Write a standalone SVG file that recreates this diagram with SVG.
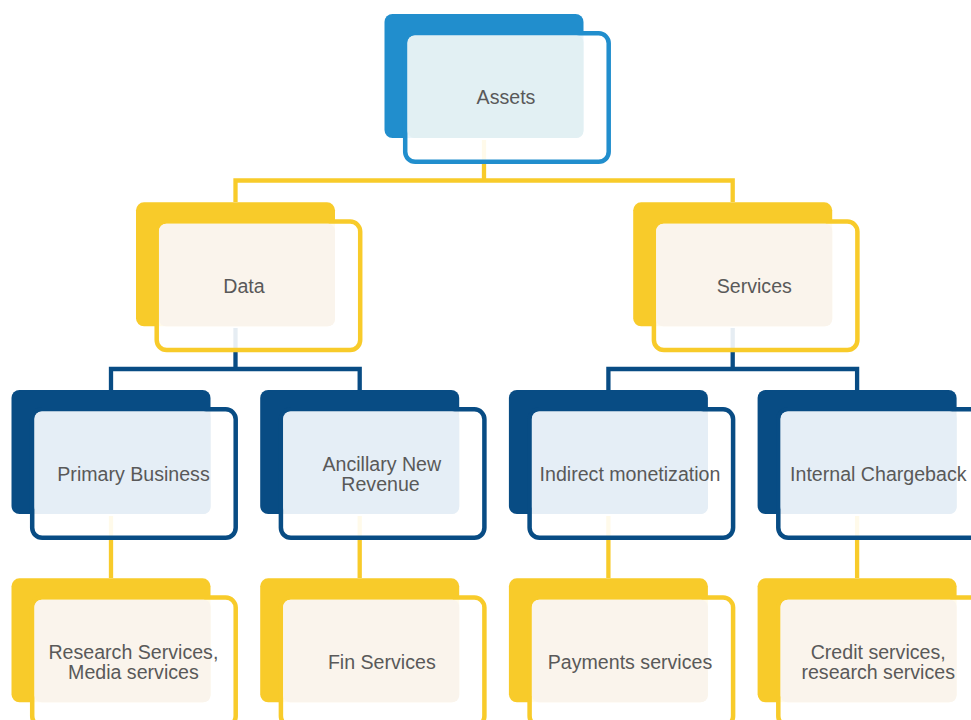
<svg xmlns="http://www.w3.org/2000/svg" width="971" height="720" viewBox="0 0 971 720">
<style>
  .o { fill: #ffffff; fill-opacity: 0.9; stroke-width: 4.5; }
  .t { font-family: "Liberation Sans", Arial, sans-serif; font-size: 19.6px; fill: #595959; text-anchor: middle; }
  .c { fill: none; stroke-width: 4.3; stroke-linejoin: miter; stroke-linecap: butt; }
  .bl1 { fill: #218ecd; } .bl1o { stroke: #218ecd; } .bl1l { fill: #e2f0f3; }
  .ye { fill: #f8cb2a; } .yeo { stroke: #f8cb2a; } .yel { fill: #faf4ec; }
  .db { fill: #084c84; } .dbo { stroke: #084c84; } .dbl { fill: #e5eef6; }
</style>
<rect width="971" height="720" fill="#ffffff"/>
<g id="connectors">
  <path class="c" stroke="#f8cb2a" d="M484,140 V180.5 M235.5,202 V180.5 H732.7 V202"/>
  <path class="c" stroke="#084c84" d="M235.5,328 V369 M111,390 V369 H359.7 V390"/>
  <path class="c" stroke="#084c84" d="M732.7,328 V369 M608.4,390 V369 H857.1 V390"/>
  <path class="c" stroke="#f8cb2a" d="M111,516 V578 M359.7,516 V578 M608.4,516 V578 M857.1,516 V578"/>
</g>
<g id="assets">
  <rect class="bl1" x="384.5" y="14" width="199" height="124" rx="8"/>
  <rect class="o bl1o" x="405.2" y="33.3" width="203.5" height="128.5" rx="10"/>
  <rect class="bl1l" x="407.5" y="35.5" width="176" height="102.5" rx="7"/>
  <text class="t" x="506" y="104.3">Assets</text>
</g>
<g id="data">
  <rect class="ye" x="136" y="202.3" width="199" height="124" rx="8"/>
  <rect class="o yeo" x="156.7" y="221.6" width="203.5" height="128.5" rx="10"/>
  <rect class="yel" x="159" y="223.8" width="176" height="102.5" rx="7"/>
  <text class="t" x="244" y="292.5">Data</text>
</g>
<g id="services">
  <rect class="ye" x="633.2" y="202.3" width="199" height="124" rx="8"/>
  <rect class="o yeo" x="653.9" y="221.6" width="203.5" height="128.5" rx="10"/>
  <rect class="yel" x="656.2" y="223.8" width="176" height="102.5" rx="7"/>
  <text class="t" x="754.3" y="292.5">Services</text>
</g>
<g id="primary-business">
  <rect class="db" x="11.5" y="390" width="199" height="124" rx="8"/>
  <rect class="o dbo" x="32.2" y="409.3" width="203.5" height="128.5" rx="10"/>
  <rect class="dbl" x="34.5" y="411.5" width="176" height="102.5" rx="7"/>
  <text class="t" x="133.5" y="480.5">Primary Business</text>
</g>
<g id="ancillary-new-revenue">
  <rect class="db" x="260.2" y="390" width="199" height="124" rx="8"/>
  <rect class="o dbo" x="280.9" y="409.3" width="203.5" height="128.5" rx="10"/>
  <rect class="dbl" x="283.2" y="411.5" width="176" height="102.5" rx="7"/>
  <text class="t" x="381.8" y="470.8">Ancillary New</text>
  <text class="t" x="380.5" y="490.8">Revenue</text>
</g>
<g id="indirect-monetization">
  <rect class="db" x="508.9" y="390" width="199" height="124" rx="8"/>
  <rect class="o dbo" x="529.6" y="409.3" width="203.5" height="128.5" rx="10"/>
  <rect class="dbl" x="531.9" y="411.5" width="176" height="102.5" rx="7"/>
  <text class="t" x="630" y="480.5">Indirect monetization</text>
</g>
<g id="internal-chargeback">
  <rect class="db" x="757.6" y="390" width="199" height="124" rx="8"/>
  <rect class="o dbo" x="778.3" y="409.3" width="203.5" height="128.5" rx="10"/>
  <rect class="dbl" x="780.6" y="411.5" width="176" height="102.5" rx="7"/>
  <text class="t" x="878.3" y="480.5">Internal Chargeback</text>
</g>
<g id="research-media-services">
  <rect class="ye" x="11.5" y="578.3" width="199" height="124" rx="8"/>
  <rect class="o yeo" x="32.2" y="597.6" width="203.5" height="128.5" rx="10"/>
  <rect class="yel" x="34.5" y="599.8" width="176" height="102.5" rx="7"/>
  <text class="t" x="133.4" y="658.6">Research Services,</text>
  <text class="t" x="133.4" y="678.6">Media services</text>
</g>
<g id="fin-services">
  <rect class="ye" x="260.2" y="578.3" width="199" height="124" rx="8"/>
  <rect class="o yeo" x="280.9" y="597.6" width="203.5" height="128.5" rx="10"/>
  <rect class="yel" x="283.2" y="599.8" width="176" height="102.5" rx="7"/>
  <text class="t" x="381.8" y="668.8">Fin Services</text>
</g>
<g id="payments-services">
  <rect class="ye" x="508.9" y="578.3" width="199" height="124" rx="8"/>
  <rect class="o yeo" x="529.6" y="597.6" width="203.5" height="128.5" rx="10"/>
  <rect class="yel" x="531.9" y="599.8" width="176" height="102.5" rx="7"/>
  <text class="t" x="630" y="668.8">Payments services</text>
</g>
<g id="credit-research-services">
  <rect class="ye" x="757.6" y="578.3" width="199" height="124" rx="8"/>
  <rect class="o yeo" x="778.3" y="597.6" width="203.5" height="128.5" rx="10"/>
  <rect class="yel" x="780.6" y="599.8" width="176" height="102.5" rx="7"/>
  <text class="t" x="878.2" y="658.6">Credit services,</text>
  <text class="t" x="878.2" y="678.6">research services</text>
</g>
</svg>
